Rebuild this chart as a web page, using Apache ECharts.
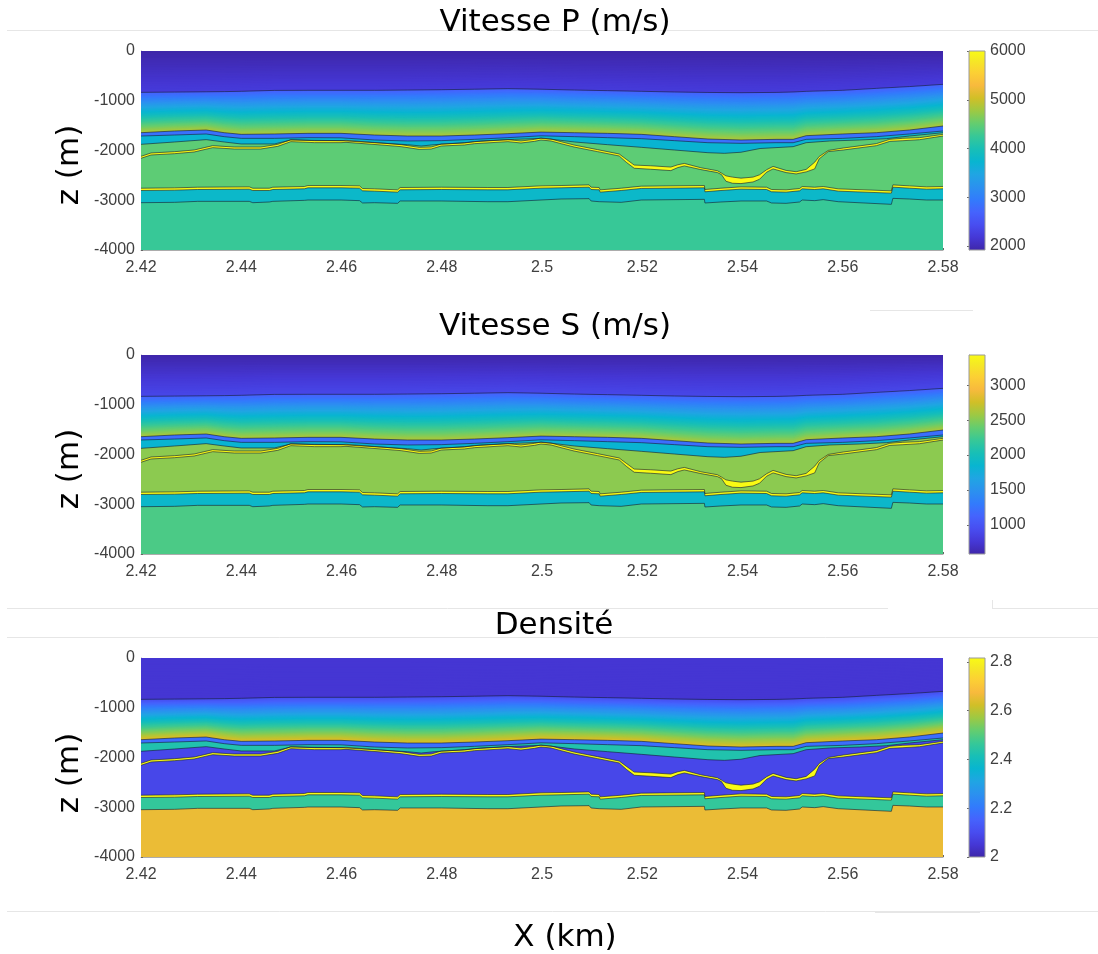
<!DOCTYPE html>
<html><head><meta charset="utf-8">
<style>html,body{margin:0;padding:0;background:#fff}#c{width:1098px;height:954px}</style>
<script src="https://cdn.jsdelivr.net/npm/echarts@6/dist/echarts.min.js"></script>
</head><body><div id="c"></div>
<script>
// ---- interfaces: x in km, depth in m (positive down) ----
const xUpper=[2.42,2.4267,2.433,2.4366,2.44,2.4466,2.4533,2.4599,2.4666,2.4732,2.4799,2.4865,2.4932,2.4998,2.5065,2.5131,2.5198,2.5264,2.5331,2.5397,2.5467,2.5501,2.5527,2.56,2.5667,2.5733,2.58];
const surface=[0,0,0,0,0,0,0,0,0,0,0,0,0,0,0,0,0,0,0,0,0,0,0,0,0,0,0];
const seabed=[831,826,820,816,810,792,790,790,790,785,778,768,757,768,785,797,810,824,833,838,832,824,811,790,751,715,670];
const gradBase=[1642,1608,1588,1642,1675,1668,1655,1655,1689,1709,1709,1689,1662,1630,1642,1655,1675,1722,1769,1789,1776,1776,1702,1668,1642,1588,1508];
const blueBase=[1709,1689,1668,1722,1756,1756,1742,1745,1789,1809,1802,1776,1742,1705,1722,1742,1762,1802,1843,1856,1843,1843,1776,1756,1722,1668,1608];
const xTeal=[2.42,2.4267,2.433,2.4366,2.44,2.4466,2.4499,2.4599,2.4666,2.4732,2.4759,2.4785,2.4845,2.4878,2.4945,2.4998,2.5021,2.5065,2.5131,2.5198,2.5264,2.5331,2.5364,2.5397,2.5435,2.5501,2.5527,2.5574,2.5634,2.5687,2.5733,2.58];
const tealBase=[1876,1829,1782,1829,1869,1869,1789,1802,1843,1883,1910,1883,1843,1809,1776,1756,1776,1829,1883,1936,1990,2044,2057,2035,1960,1923,1843,1809,1789,1762,1709,1642];
const xGas=[2.42,2.422,2.4267,2.4306,2.4343,2.4386,2.4439,2.4473,2.4499,2.4546,2.4599,2.4609,2.4679,2.4719,2.4755,2.4779,2.4799,2.4845,2.4865,2.4932,2.4958,2.4985,2.4998,2.5018,2.5038,2.5064,2.5111,2.5154,2.5168,2.5184,2.5217,2.5257,2.5271,2.5284,2.5317,2.535,2.5358,2.5367,2.538,2.5397,2.5421,2.5434,2.5448,2.5461,2.5487,2.5507,2.5527,2.5544,2.5553,2.5571,2.5601,2.5667,2.5694,2.572,2.5753,2.58];
const gasTop=[2117,2050,2024,1990,1903,1930,1930,1876,1782,1802,1802,1796,1849,1883,1937,1930,1870,1849,1823,1782,1809,1776,1749,1769,1823,1890,1983,2070,2175,2293,2307,2333,2287,2260,2347,2407,2454,2510,2535,2556,2535,2489,2387,2320,2400,2427,2380,2235,2120,1999,1950,1862,1775,1755,1742,1675];
const gasBase=[2157,2090,2064,2030,1943,1970,1970,1916,1822,1842,1842,1836,1889,1923,1977,1970,1910,1889,1863,1822,1849,1816,1789,1809,1863,1930,2023,2110,2236,2357,2377,2404,2343,2310,2384,2444,2484,2618,2658,2665,2632,2578,2437,2370,2444,2471,2430,2370,2168,2022,1990,1903,1816,1803,1783,1709];
const xDeep=[2.42,2.4267,2.4313,2.4416,2.4423,2.4456,2.4463,2.4526,2.4533,2.4599,2.4636,2.4642,2.4666,2.4712,2.4717,2.4799,2.4892,2.4932,2.4998,2.5038,2.5094,2.5098,2.5114,2.5116,2.5158,2.5161,2.5198,2.5324,2.5325,2.5357,2.5397,2.5448,2.5458,2.5487,2.5514,2.5519,2.5544,2.5561,2.5591,2.5697,2.57,2.5733,2.5767,2.58];
const sandTop=[2758,2751,2738,2731,2758,2758,2738,2724,2704,2704,2711,2764,2771,2791,2744,2738,2744,2744,2711,2704,2691,2738,2744,2791,2758,2731,2717,2704,2784,2758,2731,2738,2784,2791,2764,2724,2738,2724,2771,2811,2691,2711,2731,2724];
const sandBase=[2804,2797,2784,2777,2804,2804,2784,2770,2750,2750,2757,2810,2817,2837,2790,2784,2790,2790,2757,2750,2737,2784,2790,2837,2804,2777,2763,2750,2830,2804,2777,2784,2830,2837,2810,2770,2784,2770,2817,2857,2737,2757,2777,2770];
const deepBase=[3049,3042,3022,3022,3049,3035,3022,3002,2995,2995,3008,3055,3049,3062,3015,3015,3029,3029,2995,2975,2968,3015,3029,3069,3042,3015,2995,2982,3055,3035,3015,3015,3055,3062,3035,2995,3008,2988,3029,3082,2962,2975,2995,2995];

// ---- values of each layer, per panel: [water top, water base, gradient top, gradient base, blue, teal, main, gas, teal 2, basement]
const vpValues=[1920,2230,2650,4860,2850,3720,4470,6000,3800,4250];
const vsValues=[590,900,1095,2635,1210,1840,2520,3432,1890,2290];
const rhoValues=[2.05,2.05,2.1,2.64,2.18,2.43,2.09,2.816,2.46,2.656];
const vpRange=[1918,6000], vsRange=[583,3432], rhoRange=[2,2.816];
const vpTicks=[2000,3000,4000,5000,6000], vsTicks=[1000,1500,2000,2500,3000], rhoTicks=[2,2.2,2.4,2.6,2.8];
const depthTicks=[0,-1000,-2000,-3000,-4000];
const titles=['Vitesse P (m/s)','Vitesse S (m/s)','Densité'];

const parula=['#3e26a8','#4537d5','#484df0','#4563fd','#327bfc','#2b91ef','#20a5e3','#08b5d0','#18bfb6','#37c897','#64cd6f','#9dc943','#d1bf27','#f8ba3d','#fcd034','#f5e924','#f9fb14'];
const parulaPos=[0,4,8,12,16,20,24,28,32,36,40,44,48,52,56,60,63].map(i=>i/63);
const hex=h=>[1,3,5].map(i=>parseInt(h.substr(i,2),16));
function colorAt(v,r){
  const t=Math.max(0,Math.min(1,(v-r[0])/(r[1]-r[0])));
  let i=0; while(i<parulaPos.length-2&&t>parulaPos[i+1])i++;
  const f=(t-parulaPos[i])/(parulaPos[i+1]-parulaPos[i]),a=hex(parula[i]),b=hex(parula[i+1]);
  return 'rgb('+a.map((c,k)=>Math.round(c+(b[k]-c)*f)).join(',')+')';
}

const panelTops=[51,355,658];
const panelH=199;
const panels=[[vpValues,vpRange,vpTicks],[vsValues,vsRange,vsTicks],[rhoValues,rhoRange,rhoTicks]];
const BAND_COUNT=56;
const grid=[],xAxis=[],yAxis=[],series=[];
const tickFont={fontFamily:'Liberation Sans',fontSize:16,color:'#404040'};
let zi=2;

function bands(ax,x,top,bot,va,vb,range,n){
  const data=[];for(let i=0;i<n;i++)data.push([i]);
  series.push({type:'custom',coordinateSystem:'cartesian2d',xAxisIndex:ax,yAxisIndex:ax,z:zi++,silent:true,clip:true,data,
    encode:{x:-1,y:-1},
    renderItem(p,api){
      const f=api.value(0)/n,pts=[];
      for(let k=0;k<x.length;k++)pts.push(api.coord([x[k],-(top[k]+f*(bot[k]-top[k]))]));
      for(let k=x.length-1;k>=0;k--)pts.push(api.coord([x[k],-bot[k]]));
      return {type:'polygon',shape:{points:pts},style:{fill:colorAt(va+(vb-va)*(f+0.5/n),range),stroke:null}};
    }});
}
function layer(ax,x,depth,value,range){
  series.push({type:'line',xAxisIndex:ax,yAxisIndex:ax,z:zi++,silent:true,symbol:'none',
    data:x.map((v,i)=>[v,-depth[i]]),lineStyle:{width:0,opacity:0},
    areaStyle:{origin:'start',opacity:1,color:colorAt(value,range)}});
}
function outline(ax,x,depth){
  series.push({type:'line',xAxisIndex:ax,yAxisIndex:ax,z:zi++,silent:true,symbol:'none',
    data:x.map((v,i)=>[v,-depth[i]]),lineStyle:{width:1,color:'rgba(20,28,50,0.6)'}});
}

panels.forEach((pn,ip)=>{
  const [val,range,ticks]=pn, ax=ip*2, bx=ip*2+1;
  grid.push({left:141,width:802,top:panelTops[ip],height:panelH,containLabel:false});
  xAxis.push({type:'value',gridIndex:ax,min:2.42,max:2.58,interval:0.02,
    axisLine:{show:true,onZero:false,lineStyle:{color:'rgba(90,90,90,0.5)',width:1}},
    axisTick:{inside:true,length:2,lineStyle:{color:'#666'}},splitLine:{show:false},
    axisLabel:Object.assign({margin:10,formatter:v=>String(+v.toFixed(2))},tickFont)});
  yAxis.push({type:'value',gridIndex:ax,min:-4000,max:0,interval:1000,
    axisLine:{show:true,onZero:false,lineStyle:{color:'rgba(90,90,90,0.5)',width:1}},
    axisTick:{inside:true,length:2,lineStyle:{color:'#666'}},splitLine:{show:false},
    axisLabel:Object.assign({margin:6,padding:[2,0,0,0],formatter:v=>String(v)},tickFont)});
  // colour bar
  grid.push({left:969,width:16,top:panelTops[ip],height:panelH});
  xAxis.push({type:'value',gridIndex:bx,min:0,max:1,show:false});
  yAxis.push({type:'value',gridIndex:bx,min:range[0],max:range[1],position:'right',
    axisLine:{show:true,lineStyle:{color:'#9a9a9a',width:1}},
    axisTick:{inside:true,length:2,customValues:ticks,lineStyle:{color:'#666'}},splitLine:{show:false},
    axisLabel:Object.assign({margin:5,padding:[2,0,0,0],customValues:ticks,formatter:v=>String(v)},tickFont)});
  series.push({type:'custom',coordinateSystem:'cartesian2d',xAxisIndex:bx,yAxisIndex:bx,silent:true,z:2,data:[[0]],encode:{x:-1,y:-1},
    renderItem(p,api){
      const a=api.coord([0,range[1]]),b=api.coord([1,range[0]]);
      return {type:'rect',shape:{x:a[0],y:a[1],width:b[0]-a[0],height:b[1]-a[1]},
        style:{fill:new echarts.graphic.LinearGradient(0,1,0,0,parula.map((c,i)=>({offset:parulaPos[i],color:c}))),stroke:'#9a9a9a',lineWidth:1}};
    }});
  // model, painted top to bottom
  bands(ax,xUpper,surface,seabed,val[0],val[1],range,24);
  bands(ax,xUpper,seabed,gradBase,val[2],val[3],range,BAND_COUNT);
  layer(ax,xUpper,gradBase,val[4],range);
  layer(ax,xUpper,blueBase,val[5],range);
  layer(ax,xTeal,tealBase,val[6],range);
  layer(ax,xGas,gasTop,val[7],range);
  layer(ax,xGas,gasBase,val[6],range);
  layer(ax,xDeep,sandTop,val[7],range);
  layer(ax,xDeep,sandBase,val[8],range);
  layer(ax,xDeep,deepBase,val[9],range);
  [[xUpper,seabed],[xUpper,gradBase],[xUpper,blueBase],[xTeal,tealBase],[xGas,gasTop],[xGas,gasBase],[xDeep,sandTop],[xDeep,sandBase],[xDeep,deepBase]]
    .forEach(o=>outline(ax,o[0],o[1]));
});

const big={fontFamily:'DejaVu Sans',fontSize:31,color:'#111'};
const rule=(x1,y1,x2,y2)=>({type:'line',silent:true,z:0,shape:{x1,y1,x2,y2},style:{stroke:'#e6e6e6',lineWidth:1}});
const graphic=[
  rule(7,30.5,1098,30.5),rule(870,310.5,973,310.5),rule(7,608.5,888,608.5),rule(992,608.5,1098,608.5),
  rule(992.5,600,992.5,608),rule(7,637.5,1098,637.5),rule(7,911.5,1098,911.5),rule(875,912.5,980,912.5),
  {type:'text',silent:true,z:10,x:555,y:23,style:Object.assign({text:titles[0],align:'center',verticalAlign:'middle'},big)},
  {type:'text',silent:true,z:10,x:555,y:327,style:Object.assign({text:titles[1],align:'center',verticalAlign:'middle'},big)},
  {type:'text',silent:true,z:10,x:554,y:626,style:Object.assign({text:titles[2],align:'center',verticalAlign:'middle'},big)},
  {type:'text',silent:true,z:10,x:565,y:938,style:Object.assign({text:'X (km)',align:'center',verticalAlign:'middle'},big)}
];
[165,469,773].forEach(y=>graphic.push({type:'text',silent:true,z:10,x:70,y,rotation:Math.PI/2,
  style:Object.assign({text:'z (m)',align:'center',verticalAlign:'middle'},big)}));

const chart=echarts.init(document.getElementById('c'),null,{renderer:'canvas',width:1098,height:954});
chart.setOption({animation:false,backgroundColor:'#fff',grid,xAxis,yAxis,series,graphic});
</script></body></html>
